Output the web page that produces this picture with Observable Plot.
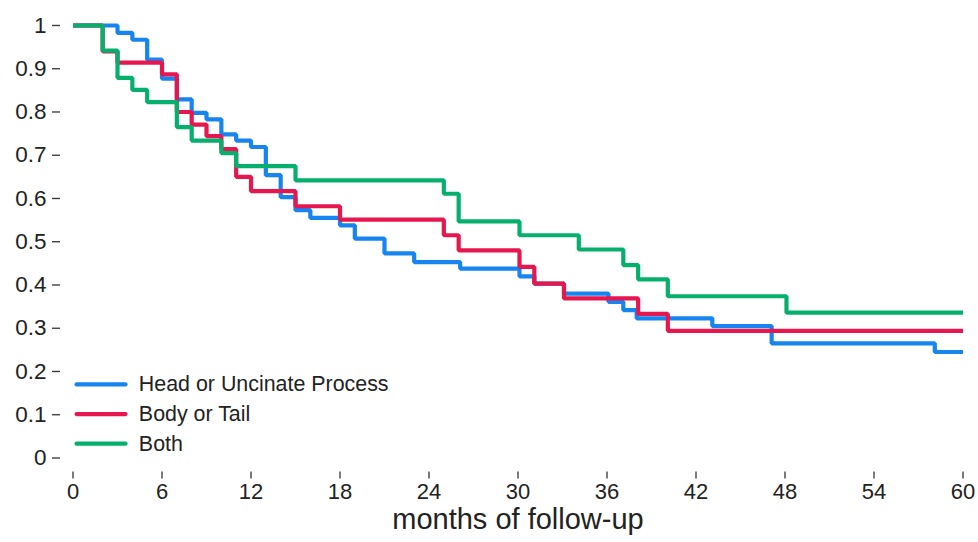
<!DOCTYPE html>
<html>
<head>
<meta charset="utf-8">
<script src="https://cdn.jsdelivr.net/npm/d3@7"></script>
<script src="https://cdn.jsdelivr.net/npm/@observablehq/plot@0.6"></script>
<style>
  html, body { margin: 0; padding: 0; background: #fff; }
  #chart svg { display: block; }
</style>
</head>
<body>
<div id="chart"></div>
<script>
// ---- Data ----
const seriesNames = ["Head or Uncinate Process", "Body or Tail", "Both"];
const seriesColors = ["#1685f0", "#e6174f", "#06b06c"];

const headTimes = [0, 3, 4, 5, 6, 7, 8, 9, 10, 11, 12, 13, 14, 15, 16, 18, 19, 21, 23, 26.1, 30.1, 31.1, 33.1, 36.1, 37.1, 38, 43.1, 47.1, 58.1, 60];
const headSurv  = [1, 0.983, 0.967, 0.921, 0.877, 0.829, 0.798, 0.783, 0.748, 0.734, 0.719, 0.654, 0.603, 0.573, 0.555, 0.538, 0.507, 0.473, 0.453, 0.438, 0.42, 0.403, 0.38, 0.361, 0.342, 0.323, 0.305, 0.265, 0.245, 0.245];

const bodyTimes = [0, 2, 3, 6, 7, 8, 9, 10, 11, 12, 15, 18, 25, 26, 30.1, 31.1, 33.1, 38.1, 40.1, 60];
const bodySurv  = [1, 0.94, 0.914, 0.887, 0.80, 0.771, 0.744, 0.714, 0.65, 0.617, 0.582, 0.551, 0.515, 0.48, 0.442, 0.403, 0.369, 0.333, 0.294, 0.294];

const bothTimes = [0, 2, 3, 4, 5, 7, 8, 10, 11, 15, 25, 26, 30.1, 34.1, 37.1, 38.1, 40.1, 48.1, 60];
const bothSurv  = [1, 0.942, 0.879, 0.851, 0.823, 0.765, 0.734, 0.705, 0.675, 0.642, 0.611, 0.547, 0.515, 0.482, 0.446, 0.413, 0.374, 0.336, 0.336];

const xTicks = [0, 6, 12, 18, 24, 30, 36, 42, 48, 54, 60];
const yTicks = [0, 0.1, 0.2, 0.3, 0.4, 0.5, 0.6, 0.7, 0.8, 0.9, 1];
const yTickLabels = ["0", "0.1", "0.2", "0.3", "0.4", "0.5", "0.6", "0.7", "0.8", "0.9", "1"];
const xLabel = "months of follow-up";

// ---- Build tidy rows ----
const allTimes = [headTimes, bodyTimes, bothTimes];
const allSurv = [headSurv, bodySurv, bothSurv];
const rows = [];
seriesNames.forEach((name, i) => {
  allTimes[i].forEach((t, j) => rows.push({series: name, t, s: allSurv[i][j]}));
});

// legend rows (placed inside the plot, lower-left, in data units)
const legendRows = seriesNames.map((name, i) => ({
  series: name,
  x1: 0.24, x2: 3.54, xt: 4.44,
  y: 0.170 - i * 0.0685
}));

const font = "'Liberation Sans', Arial, Helvetica, sans-serif";

const chart = Plot.plot({
  width: 978,
  height: 542,
  marginLeft: 60,
  marginRight: 3,
  marginTop: 12.7,
  marginBottom: 70.5,
  style: {fontFamily: font, color: "#222", background: "#fff"},
  x: {domain: [-0.843, 60.843]},
  y: {domain: [-0.0324, 1.0284]},
  color: {domain: seriesNames, range: seriesColors},
  marks: [
    Plot.axisY({ticks: yTicks, tickFormat: (d) => yTickLabels[yTicks.indexOf(d)], tickSize: 8, tickPadding: 6, fontSize: 22.5, line: true, label: null, stroke: "#333", strokeWidth: 1.3}),
    Plot.axisX({ticks: xTicks, tickSize: 7, tickPadding: 4.5, fontSize: 22, line: true, label: null, stroke: "#333", strokeWidth: 1.3}),
    Plot.line(rows, {x: "t", y: "s", z: "series", stroke: "series", curve: "step-after", strokeWidth: 4.2, strokeLinejoin: "miter", strokeLinecap: "butt"}),
    Plot.link(legendRows, {x1: "x1", x2: "x2", y1: "y", y2: "y", stroke: "series", strokeWidth: 4.2, strokeLinecap: "round"}),
    Plot.text(legendRows, {x: "xt", y: "y", text: "series", textAnchor: "start", fontSize: 21.4, fill: "#222"}),
    Plot.text([xLabel], {frameAnchor: "bottom", dy: 56.5, fontSize: 29, fill: "#222"})
  ]
});

document.getElementById("chart").appendChild(chart);
</script>
</body>
</html>
